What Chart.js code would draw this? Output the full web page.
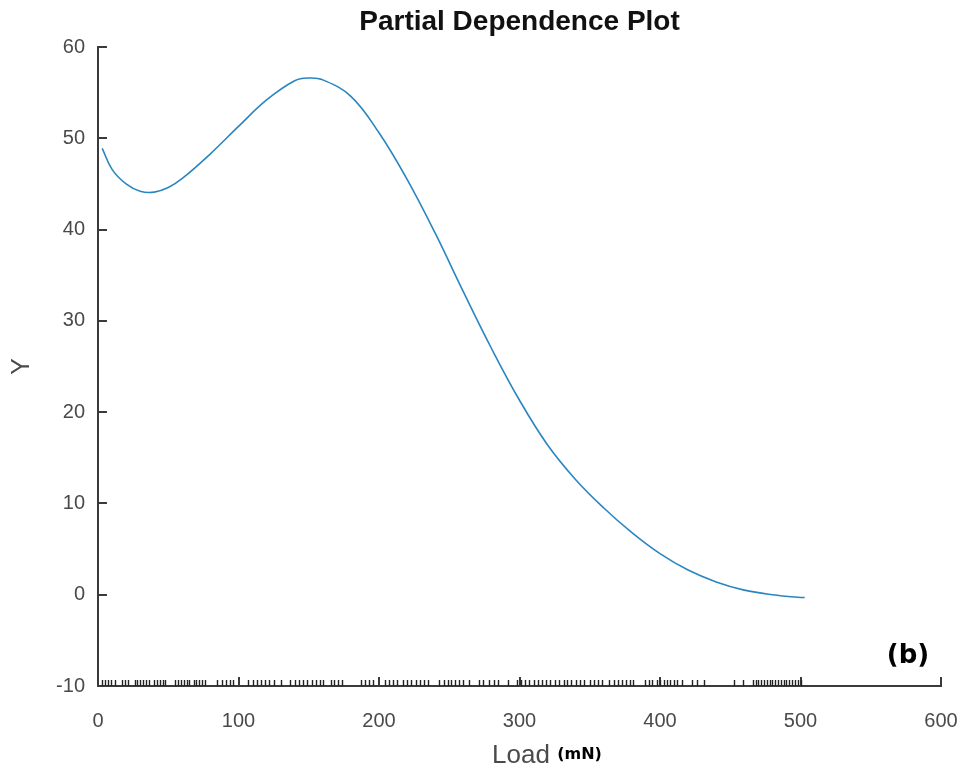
<!DOCTYPE html>
<html>
<head>
<meta charset="utf-8">
<script src="https://cdn.jsdelivr.net/npm/chart.js@4/dist/chart.umd.min.js"></script>
<style>
  html, body { margin: 0; padding: 0; background: #fff; }
  #wrap { width: 969px; height: 772px; }
</style>
</head>
<body>
<div id="wrap"><canvas id="c" width="969" height="772"></canvas></div>
<script>
// Partial dependence of Y on Load (mN)
const loadValues = [3, 10, 20, 30, 40, 50, 60, 80, 100, 120, 140, 150, 160, 180, 200, 220, 240, 260, 280, 300, 320, 340, 360, 380, 400, 420, 440, 460, 480, 500, 503];
const yValues    = [48.9, 46.6, 45.0, 44.2, 44.1, 44.6, 45.6, 48.3, 51.3, 54.2, 56.3, 56.6, 56.4, 54.6, 50.6, 45.5, 39.6, 33.2, 27.0, 21.3, 16.4, 12.6, 9.5, 6.8, 4.5, 2.7, 1.4, 0.5, 0.0, -0.3, -0.3];

// Observed Load values shown as a rug along the bottom axis
const rugLoads = [3, 5, 7, 9, 12, 17, 19, 21, 26, 28, 30, 32, 34, 36, 40, 42, 44, 46, 48,
  55, 57, 59, 61, 63, 65, 68, 70, 72, 74, 76, 85, 88, 91, 94, 96, 107, 110, 113, 116, 119, 122, 125,
  130, 137, 140, 143, 146, 149, 152, 155, 158, 160, 166, 168, 171, 174, 187, 190, 193, 196,
  204, 207, 210, 213, 217, 220, 223, 226, 229, 232, 235, 243, 246, 249, 251, 254, 257, 260, 264,
  271, 274, 278, 282, 285, 292, 298, 301, 304, 307, 310, 313, 316, 319, 322, 325, 328, 332,
  334, 337, 340, 343, 346, 350, 353, 356, 359, 364, 367, 370, 373, 376, 379, 381, 389, 392, 394,
  398, 400, 403, 405, 407, 410, 412, 416, 423, 426, 431, 453, 459, 466, 468, 470, 472, 474, 476,
  478, 480, 482, 484, 486, 488, 490, 492, 494, 496, 498, 500];

const xTicks = [0, 100, 200, 300, 400, 500, 600];
const yTicks = [-10, 0, 10, 20, 30, 40, 50, 60];

const axisColor = '#3a3a3a';
const labelColor = '#4a4a4a';
const fontFamily = '"Liberation Sans", Arial, sans-serif';

// Inward tick marks, rug and text labels
const decorations = {
  id: 'decorations',
  afterDraw(chart) {
    const ctx = chart.ctx;
    const xs = chart.scales.x, ys = chart.scales.y;
    const area = chart.chartArea;
    ctx.save();
    ctx.strokeStyle = axisColor;
    ctx.lineWidth = 2;
    // ticks pointing into the plot
    xTicks.forEach(v => {
      const px = Math.round(xs.getPixelForValue(v));
      ctx.beginPath();
      ctx.moveTo(px, area.bottom);
      ctx.lineTo(px, area.bottom - 9);
      ctx.stroke();
    });
    yTicks.forEach(v => {
      const py = Math.round(ys.getPixelForValue(v));
      ctx.beginPath();
      ctx.moveTo(area.left, py);
      ctx.lineTo(area.left + 9, py);
      ctx.stroke();
    });
    // rug
    ctx.strokeStyle = '#222';
    ctx.lineWidth = 1.4;
    rugLoads.forEach(v => {
      const px = Math.round(xs.getPixelForValue(v)) + 0.5;
      ctx.beginPath();
      ctx.moveTo(px, area.bottom);
      ctx.lineTo(px, area.bottom - 6);
      ctx.stroke();
    });
    // title
    ctx.fillStyle = '#111';
    ctx.textAlign = 'center';
    ctx.textBaseline = 'middle';
    ctx.font = 'bold 28px ' + fontFamily;
    ctx.fillText('Partial Dependence Plot', (area.left + area.right) / 2, 22);
    // y axis title
    ctx.save();
    ctx.translate(22, (area.top + area.bottom) / 2);
    ctx.rotate(-Math.PI / 2);
    ctx.fillStyle = labelColor;
    ctx.font = '25px ' + fontFamily;
    ctx.fillText('Y', 0, 0);
    ctx.restore();
    // x axis title: "Load" + bold "(mN)"
    ctx.font = '26px ' + fontFamily;
    const w1 = ctx.measureText('Load ').width;
    ctx.font = 'bold 16px "DejaVu Sans", sans-serif';
    const w2 = ctx.measureText('(mN)').width;
    const start = 547 - (w1 + w2) / 2;
    ctx.textAlign = 'left';
    ctx.fillStyle = labelColor;
    ctx.font = '26px ' + fontFamily;
    ctx.fillText('Load', start, 756);
    ctx.fillStyle = '#000';
    ctx.font = 'bold 16px "DejaVu Sans", sans-serif';
    ctx.fillText('(mN)', start + w1, 755);
    // panel label
    ctx.textAlign = 'center';
    ctx.font = 'bold 26px "DejaVu Sans", sans-serif';
    ctx.fillText('(b)', 908, 656);
    ctx.restore();
  }
};

new Chart(document.getElementById('c'), {
  type: 'line',
  data: {
    datasets: [{
      data: loadValues.map((x, i) => ({ x, y: yValues[i] })),
      borderColor: '#2a86c0',
      borderWidth: 1.6,
      pointRadius: 0,
      fill: false,
      tension: 0.4
    }]
  },
  options: {
    responsive: false,
    animation: false,
    events: [],
    layout: { padding: { top: 47, right: 28, bottom: 0, left: 0 } },
    plugins: { legend: { display: false }, tooltip: { enabled: false }, title: { display: false } },
    scales: {
      x: {
        type: 'linear',
        min: 0, max: 600,
        afterBuildTicks(s) { s.ticks = xTicks.map(v => ({ value: v })); },
        afterFit(s) { s.height = 86; s.paddingLeft = 0; s.paddingRight = 0; },
        grid: { display: true, drawOnChartArea: false, drawTicks: false },
        border: { display: true, color: axisColor, width: 2 },
        ticks: { color: labelColor, font: { size: 20, family: fontFamily }, padding: 23, maxRotation: 0 }
      },
      y: {
        type: 'linear',
        min: -10, max: 60,
        afterBuildTicks(s) { s.ticks = yTicks.map(v => ({ value: v })); },
        afterFit(s) { s.width = 98; s.paddingTop = 0; s.paddingBottom = 0; },
        grid: { display: true, drawOnChartArea: false, drawTicks: false },
        border: { display: true, color: axisColor, width: 2 },
        ticks: { color: labelColor, font: { size: 20, family: fontFamily }, padding: 13 }
      }
    }
  },
  plugins: [decorations]
});
</script>
</body>
</html>
